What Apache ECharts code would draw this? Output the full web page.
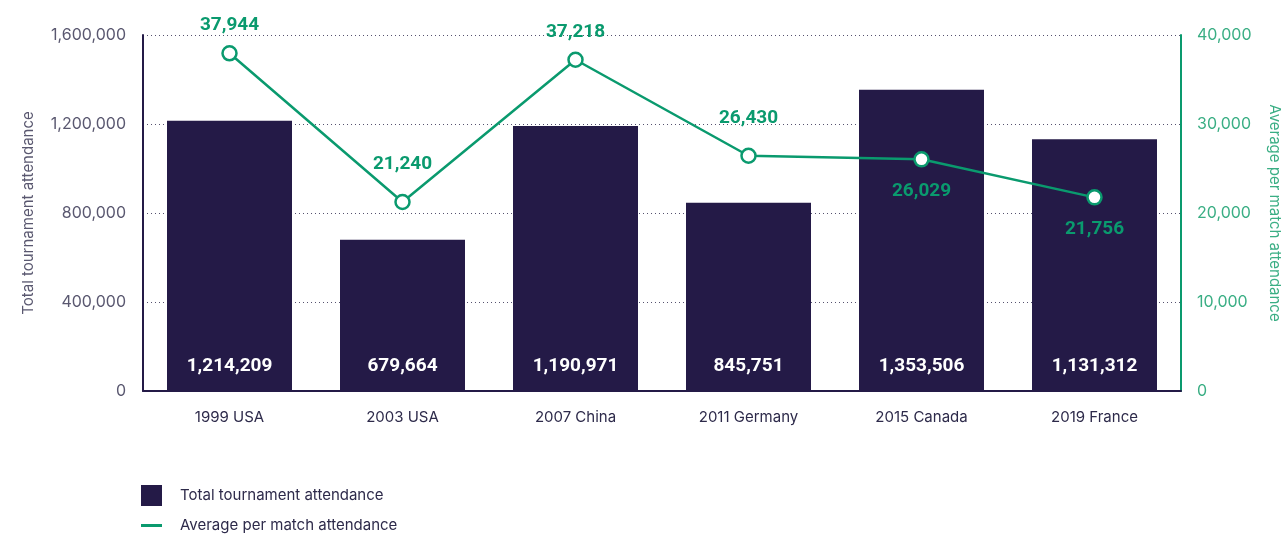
<!DOCTYPE html>
<html>
<head>
<meta charset="utf-8">
<script src="https://cdn.jsdelivr.net/npm/echarts@6/dist/echarts.min.js"></script>
<style>
  html, body { margin: 0; padding: 0; background: #fff; }
  #chart { width: 1281px; height: 534px; }
</style>
</head>
<body>
<div id="chart"></div>
<script>
// 数据
var categories = ['1999 USA', '2003 USA', '2007 China', '2011 Germany', '2015 Canada', '2019 France']
var totalAttendance = [1214209, 679664, 1190971, 845751, 1353506, 1131312]
var avgAttendance = [37944, 21240, 37218, 26430, 26029, 21756]
var labelBelow = [false, false, false, false, true, true]

var navy = '#241a47'
var green = '#0a9a6e'
var labelFont = 'Roboto, sans-serif'

function fmt(v) { return v.toLocaleString('en-US') }

var lineData = avgAttendance.map(function(v, i) {
  return {
    value: v,
    label: {
      position: labelBelow[i] ? 'bottom' : 'top',
      distance: labelBelow[i] ? 14 : (i === 0 || i === 2 ? 10 : 20)
    }
  }
})

var chart = echarts.init(document.getElementById('chart'))
chart.setOption({
  backgroundColor: '#fff',
  textStyle: { fontFamily: 'Inter, sans-serif' },
  grid: { left: 143, right: 100, top: 35, bottom: 143, outerBoundsMode: 'none', containLabel: false },
  legend: [{
    data: ['Total tournament attendance'],
    left: 136,
    top: 480,
    icon: 'rect',
    itemWidth: 21,
    itemHeight: 21,
    textStyle: { fontSize: 15, color: '#2d2a4a', padding: [0, 0, 0, 13] }
  }, {
    data: [{ name: 'Average per match attendance', itemStyle: { color: green, borderWidth: 0 } }],
    left: 136,
    top: 513,
    icon: 'rect',
    itemWidth: 21,
    itemHeight: 3,
    textStyle: { fontSize: 15, color: '#2d2a4a', padding: [0, 0, 0, 13] }
  }],
  xAxis: {
    type: 'category',
    data: categories,
    axisLine: { lineStyle: { color: navy, width: 2 } },
    axisTick: { show: false },
    axisLabel: { color: '#2d2a4a', fontSize: 15, margin: 19 }
  },
  yAxis: [{
    type: 'value',
    min: 0,
    max: 1600000,
    interval: 400000,
    name: 'Total tournament attendance',
    nameLocation: 'middle',
    nameRotate: 90,
    nameGap: 107,
    nameTextStyle: { color: '#5a5870', fontSize: 15 },
    axisLine: { show: true, lineStyle: { color: navy, width: 2 } },
    axisLabel: { color: '#5a5870', fontSize: 16, margin: 17, formatter: fmt },
    splitLine: { lineStyle: { color: '#55516e', type: [1, 3], width: 1 } }
  }, {
    type: 'value',
    min: 0,
    max: 40000,
    interval: 10000,
    position: 'right',
    name: 'Average per match attendance',
    nameLocation: 'middle',
    nameRotate: -90,
    nameGap: 86,
    nameTextStyle: { color: '#3aae84', fontSize: 15 },
    axisLine: { show: true, lineStyle: { color: green, width: 2 } },
    axisLabel: { color: '#3aae84', fontSize: 16, margin: 16, formatter: fmt },
    splitLine: { show: false }
  }],
  series: [{
    name: 'Total tournament attendance',
    type: 'bar',
    data: totalAttendance,
    barWidth: 125,
    itemStyle: { color: navy },
    label: {
      show: true,
      position: 'insideBottom',
      distance: 15,
      color: '#fff',
      fontSize: 19,
      fontWeight: 'bold',
      fontFamily: labelFont,
      formatter: function(p) { return fmt(p.value) }
    }
  }, {
    name: 'Average per match attendance',
    type: 'line',
    yAxisIndex: 1,
    data: lineData,
    symbol: 'circle',
    symbolSize: 14,
    lineStyle: { color: green, width: 2.5 },
    itemStyle: { color: '#fff', borderColor: green, borderWidth: 2.5 },
    label: {
      show: true,
      color: green,
      fontSize: 19,
      fontWeight: 'bold',
      fontFamily: labelFont,
      formatter: function(p) { return fmt(p.value) }
    }
  }]
})
</script>
</body>
</html>
